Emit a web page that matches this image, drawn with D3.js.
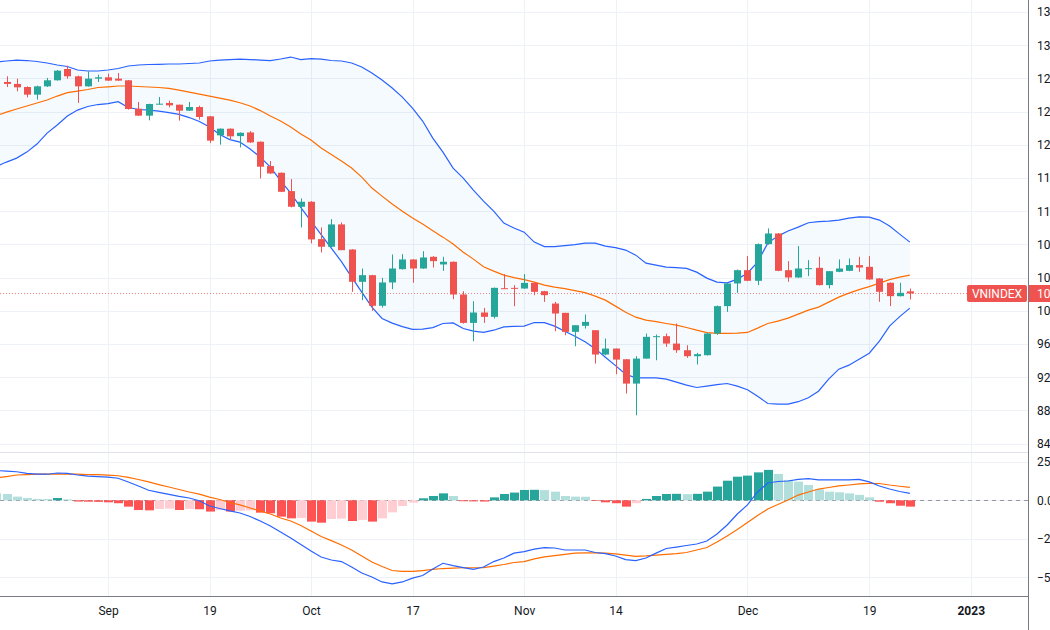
<!DOCTYPE html>
<html>
<head>
<meta charset="utf-8">
<script src="https://cdn.jsdelivr.net/npm/d3@7"></script>
<style>
  html, body { margin: 0; padding: 0; background: #fff; overflow: hidden; }
  svg { display: block; font-family: Roboto, "Noto Sans", sans-serif; }
</style>
</head>
<body>
<svg id="chart" width="1050" height="630"></svg>
<script>
// VNINDEX daily, mid Aug 2022 -> 23 Dec 2022 (one entry per trading day)
const opens = [1274.0,1275.7,1273.3,1269.6,1260.4,1270.4,1277.7,1291.3,1282.5,1270.4,1279.7,
  1281.3,1279.7,1277.7,1243.5,1235.1,1249.1,1250.4,1248.3,1241.1,1245.5,1234.3,1211.4,1219.4,1210.5,
  1214.9,1203.7,1174.4,1166.3,1144.2,1125.4,1131.4,1086.4,1077.2,1104.1,1073.9,1035.0,1043.0,1006.1,
  1034.2,1050.2,1061.9,1051.0,1065.1,1055.9,1059.1,1019.7,985.5,998.0,992.8,1027.3,1027.7,1026.9,
  1033.7,1023.7,1008.8,997.6,974.7,982.0,976.7,947.4,954.6,941.7,912.4,942.5,968.7,969.5,960.6,
  952.6,945.4,946.6,972.7,1005.7,1033.0,1049.0,1036.2,1080.4,1093.2,1049.0,1040.2,1050.2,1051.8,
  1031.0,1047.0,1048.2,1055.1,1053.0,1039.0,1033.8,1017.7,1023.5];
const highs = [1277.0,1282.5,1279.7,1270.4,1271.2,1280.5,1290.1,1295.3,1283.3,1288.5,1284.5,
  1285.7,1286.5,1278.0,1251.6,1249.5,1257.6,1253.2,1248.3,1251.6,1247.1,1234.7,1219.8,1219.8,1214.9,
  1216.5,1204.1,1180.4,1166.7,1158.7,1135.4,1132.2,1100.5,1110.5,1106.5,1074.3,1051.0,1043.4,1039.8,
  1067.9,1068.3,1062.3,1071.9,1065.9,1065.1,1059.5,1023.7,1011.6,1003.6,1028.1,1044.2,1030.9,1044.2,
  1034.1,1024.1,1010.8,997.6,982.7,995.6,976.7,966.7,954.6,941.7,945.4,972.7,971.5,972.7,984.7,
  958.6,949.4,973.5,1006.5,1033.8,1049.8,1065.9,1081.2,1099.3,1093.6,1059.9,1078.0,1061.1,1065.1,
  1047.8,1061.9,1063.1,1065.1,1065.9,1039.4,1034.2,1033.8,1026.9];
const lows = [1272.0,1269.6,1264.4,1257.2,1254.4,1269.6,1277.3,1279.7,1250.4,1270.0,1275.7,
  1276.9,1277.0,1242.3,1234.7,1229.5,1248.7,1245.1,1229.1,1240.7,1230.3,1202.1,1200.1,1206.2,1196.9,
  1202.1,1159.5,1165.1,1143.0,1124.6,1100.5,1081.2,1070.3,1076.4,1073.1,1022.9,1012.9,1000.0,1004.0,
  1026.1,1049.8,1033.8,1050.6,1052.2,1048.2,1014.1,984.7,963.4,985.5,990.8,1026.5,1005.6,1026.5,
  1018.9,1010.8,975.5,970.7,957.4,978.7,936.5,946.6,923.7,900.4,874.3,942.1,940.5,956.6,949.4,
  943.4,935.4,946.2,971.1,998.8,1021.7,1035.8,1031.0,1079.6,1047.8,1035.0,1039.8,1041.8,1030.6,
  1027.0,1046.6,1047.8,1047.0,1037.4,1010.9,1005.7,1017.3,1013.7];
const closes = [1275.5,1273.3,1269.2,1260.4,1270.4,1277.7,1289.3,1282.5,1270.4,1279.7,1281.3,
  1277.3,1277.3,1243.1,1235.1,1249.1,1249.5,1247.5,1241.1,1245.5,1233.5,1205.0,1219.4,1210.2,1214.5,
  1202.9,1173.6,1165.5,1143.4,1125.4,1131.4,1086.0,1077.2,1104.1,1073.1,1035.0,1043.0,1006.1,1034.2,
  1051.0,1061.9,1051.0,1064.3,1059.9,1059.1,1019.7,985.5,998.0,992.8,1027.7,1026.9,1026.9,1033.7,
  1022.9,1018.9,996.8,974.7,982.7,986.7,947.4,954.6,941.3,912.4,942.5,968.7,969.5,960.6,952.6,
  945.4,947.8,972.7,1005.7,1033.0,1049.0,1036.2,1080.4,1093.2,1048.2,1040.2,1051.0,1051.4,1031.0,
  1047.8,1051.0,1055.1,1052.2,1037.8,1022.9,1017.7,1021.7,1021.0];

// Bollinger Bands (20, 2)
const bbUpper = [1299.7,1300.9,1302.1,1301.5,1300.3,1298.5,1296.1,1294.3,1290.1,1288.9,1288.9,
  1290.1,1291.9,1294.9,1296.1,1296.7,1296.9,1297.3,1297.3,1297.9,1298.5,1300.9,1302.1,1302.7,1303.3,
  1302.7,1302.1,1301.5,1303.3,1305.7,1302.7,1303.9,1303.3,1301.5,1300.9,1298.5,1293.7,1286.4,1278.0,
  1268.4,1257.5,1244.3,1228.6,1208.1,1191.2,1171.9,1159.9,1145.4,1132.2,1120.2,1105.7,1099.7,1094.8,
  1082.8,1077.4,1077.4,1078.6,1079.8,1081.6,1081.6,1078.0,1076.2,1073.2,1067.1,1057.5,1055.1,1052.7,
  1052.1,1051.1,1046.6,1039.4,1034.6,1033.7,1038.2,1045.4,1058.7,1081.6,1090.0,1096.1,1100.9,1106.1,
  1107.5,1108.1,1109.3,1111.7,1113.3,1112.9,1109.3,1102.1,1092.4,1082.8];
const bbBasis = [1235.2,1239.4,1243.1,1246.7,1250.3,1253.9,1258.7,1262.9,1264.7,1266.6,1269.0,
  1269.8,1270.8,1270.8,1270.2,1269.6,1269.0,1268.0,1265.9,1263.5,1261.1,1258.7,1256.3,1253.9,1250.6,
  1246.7,1241.2,1234.6,1228.6,1221.4,1212.9,1205.7,1196.1,1188.2,1180.4,1172.0,1161.1,1147.9,1138.2,
  1128.6,1120.1,1111.7,1104.5,1096.6,1088.8,1080.4,1070.7,1062.3,1053.0,1047.8,1043.0,1040.0,1037.6,
  1034.6,1031.0,1028.6,1026.8,1024.3,1021.9,1017.7,1012.9,1005.7,998.4,992.4,988.8,987.0,984.8,
  982.8,980.0,976.7,973.7,972.8,972.8,973.1,974.0,979.2,984.8,987.6,991.2,996.0,1000.8,
  1004.5,1010.5,1016.5,1021.3,1025.6,1029.2,1033.4,1037.6,1040.6,1043.0];
const bbLower = [1173.8,1179.2,1184.0,1191.2,1200.9,1214.1,1223.8,1234.6,1241.8,1246.1,1248.5,
  1249.7,1251.9,1244.9,1242.5,1241.8,1240.6,1238.8,1236.7,1232.8,1228.0,1221.4,1212.3,1206.3,1203.3,
  1194.9,1185.2,1173.2,1156.9,1141.8,1124.4,1108.1,1091.8,1075.6,1059.3,1040.6,1022.5,1004.5,990.8,
  985.2,981.0,977.6,978.0,979.8,984.8,985.5,978.8,975.5,974.0,976.7,980.7,981.2,981.6,
  986.0,985.8,981.6,975.5,969.5,962.9,954.5,944.2,934.0,923.7,919.3,919.3,919.3,917.7,
  914.1,910.5,907.7,909.3,911.1,912.5,909.3,905.0,897.2,888.4,887.6,887.6,890.6,895.4,
  903.2,917.7,929.8,934.6,941.8,949.0,963.5,981.6,993.0,1003.3];

// MACD (12, 26, 9)
const macdLine = [19.3,18.9,18.5,17.4,17.0,16.9,17.7,17.4,16.4,15.7,15.4,
  15.0,14.3,11.9,9.3,6.5,5.1,3.8,2.5,1.5,-0.3,-3.7,-5.3,-6.9,-8.2,
  -10.5,-13.4,-16.7,-20.5,-24.4,-28.6,-32.9,-36.7,-38.7,-39.7,-43.2,-47.1,-49.7,-52.9,
  -54.2,-52.9,-50.4,-48.7,-44.5,-40.8,-42.3,-43.6,-44.8,-43.2,-39.7,-37.4,-34.2,-33.2,
  -31.6,-30.6,-30.9,-32.2,-32.2,-32.2,-33.8,-34.5,-36.1,-38.4,-39.1,-37.4,-34.2,-31.2,
  -30.3,-29.3,-28.3,-26.4,-21.8,-16.0,-8.9,-3.0,5.4,11.2,12.2,12.5,13.5,14.1,
  13.2,13.2,13.2,13.3,13.5,11.9,9.3,7.3,5.7,4.5];
const signalLine = [14.5,15.4,16.4,16.7,16.9,17.0,17.0,16.9,16.9,16.7,16.6,
  16.3,15.9,14.8,13.5,11.9,10.2,8.6,7.0,5.4,4.0,2.1,0.5,-1.4,-3.0,
  -5.0,-6.9,-8.9,-11.5,-13.4,-16.3,-19.9,-23.5,-26.1,-29.0,-32.2,-36.1,-40.0,-42.9,
  -45.5,-46.0,-46.1,-45.5,-44.8,-44.2,-43.9,-43.7,-43.7,-43.6,-42.6,-41.6,-40.3,-39.7,
  -38.0,-36.7,-35.8,-35.0,-34.2,-34.0,-34.0,-34.2,-34.7,-35.5,-36.3,-36.0,-35.5,-35.0,
  -34.6,-33.8,-32.2,-30.6,-27.0,-23.1,-18.9,-14.4,-9.9,-5.6,-2.7,0.2,3.4,5.4,
  7.3,8.3,9.3,9.9,10.6,11.0,10.9,9.9,9.1,8.4];
const histogram = [4.5,4.1,2.4,1.5,0.9,0.8,1.5,0.6,-0.8,-0.9,-1.0,
  -1.3,-1.9,-4.1,-6.3,-6.5,-5.6,-5.4,-6.3,-5.6,-5.8,-7.3,-6.3,-7.3,-6.7,
  -6.5,-8.0,-8.4,-10.6,-11.7,-11.4,-13.8,-14.5,-12.1,-11.9,-13.4,-12.7,-13.8,-11.7,
  -7.8,-3.7,-1.5,1.3,2.8,4.5,2.8,-0.6,-0.7,-0.8,1.9,4.1,5.0,6.7,
  6.8,6.6,5.6,2.8,2.4,2.3,-0.4,-1.3,-1.9,-4.1,-1.9,0.9,2.8,4.1,
  4.2,4.0,4.2,5.6,8.9,12.7,15.3,16.0,18.1,19.7,17.1,13.2,12.1,9.9,
  7.1,5.6,5.2,4.5,3.5,1.9,-0.9,-1.9,-3.5,-4.1];

// time axis labels (bar index -> text); 2023 label sits in empty future space
const timeTickIndex = [11, 21, 31, 41, 52, 61, 74, 86, 96];
const timeTickLabel = ['Sep', '19', 'Oct', '17', 'Nov', '14', 'Dec', '19', '2023'];
const priceTicks = [840, 880, 920, 960, 1000, 1040, 1080, 1120, 1160, 1200, 1240, 1280, 1320, 1360];
const macdTicks = [25, 0, -25, -50];

const svg = d3.select('#chart');
const W = 1050, plotRight = 1028;
const priceTop = 0, priceBottom = 452, macdTop = 453, macdBottom = 596;

const UP = '#26a69a', DOWN = '#ef5350';
const GRID = '#eef1f6';

const idx = d3.range(opens.length);
const x = d3.scaleLinear().domain([0, opens.length - 1]).range([-3.65, 909.85]);
const y = d3.scaleLinear().domain([830, 1374.4]).range([priceBottom, priceTop]);
const ym = d3.scaleLinear().domain([-62, 30.65]).range([macdBottom, macdTop]);

const defs = svg.append('defs');
defs.append('clipPath').attr('id', 'clipPrice')
  .append('rect').attr('x', 0).attr('y', priceTop).attr('width', plotRight).attr('height', priceBottom - priceTop);
defs.append('clipPath').attr('id', 'clipMacd')
  .append('rect').attr('x', 0).attr('y', macdTop).attr('width', plotRight).attr('height', macdBottom - macdTop);

// grid
const grid = svg.append('g');
grid.selectAll('.vg').data(timeTickIndex).join('line')
  .attr('x1', d => Math.round(x(d)) + 0.5).attr('x2', d => Math.round(x(d)) + 0.5)
  .attr('y1', 0).attr('y2', macdBottom)
  .attr('stroke', GRID);
grid.selectAll('.hg').data(priceTicks).join('line')
  .attr('x1', 0).attr('x2', plotRight)
  .attr('y1', d => Math.round(y(d)) + 0.5).attr('y2', d => Math.round(y(d)) + 0.5)
  .attr('stroke', GRID);
grid.selectAll('.mg').data(macdTicks).join('line')
  .attr('x1', 0).attr('x2', plotRight)
  .attr('y1', d => Math.round(ym(d)) + 0.5).attr('y2', d => Math.round(ym(d)) + 0.5)
  .attr('stroke', GRID);

// pane separator
svg.append('line').attr('x1', 0).attr('x2', plotRight)
  .attr('y1', priceBottom + 0.5).attr('y2', priceBottom + 0.5)
  .attr('stroke', '#e0e3eb');

// ---- price pane ----
const pp = svg.append('g').attr('clip-path', 'url(#clipPrice)');

pp.append('path').datum(idx)
  .attr('d', d3.area().x(i => x(i)).y0(i => y(bbLower[i])).y1(i => y(bbUpper[i])))
  .attr('fill', 'rgba(33,150,243,0.05)');

const bbLine = arr => d3.line().x(i => x(i)).y(i => y(arr[i]));
pp.append('path').datum(idx).attr('d', bbLine(bbUpper))
  .attr('fill', 'none').attr('stroke', '#2962ff').attr('stroke-width', 1.2);
pp.append('path').datum(idx).attr('d', bbLine(bbLower))
  .attr('fill', 'none').attr('stroke', '#2962ff').attr('stroke-width', 1.2);
pp.append('path').datum(idx).attr('d', bbLine(bbBasis))
  .attr('fill', 'none').attr('stroke', '#ff6d00').attr('stroke-width', 1.2);

// last price dotted line
const last = closes[closes.length - 1];
const lastY = Math.round(y(last)) + 0.5;
pp.append('line').attr('x1', 0).attr('x2', plotRight)
  .attr('y1', lastY).attr('y2', lastY)
  .attr('stroke', DOWN).attr('stroke-width', 1).attr('stroke-dasharray', '1,2').attr('opacity', 0.7);

// candles
const candles = pp.selectAll('.candle').data(idx).join('g');
candles.append('line')
  .attr('x1', i => Math.round(x(i)) + 0.5).attr('x2', i => Math.round(x(i)) + 0.5)
  .attr('y1', i => y(highs[i])).attr('y2', i => y(lows[i]))
  .attr('stroke', i => closes[i] >= opens[i] ? UP : DOWN);
candles.append('rect')
  .attr('x', i => Math.round(x(i)) - 3)
  .attr('width', 7)
  .attr('y', i => y(Math.max(opens[i], closes[i])))
  .attr('height', i => Math.max(1, Math.abs(y(opens[i]) - y(closes[i]))))
  .attr('fill', i => closes[i] >= opens[i] ? UP : DOWN);

// ---- MACD pane ----
const mp = svg.append('g').attr('clip-path', 'url(#clipMacd)');
mp.append('line').attr('x1', 0).attr('x2', plotRight)
  .attr('y1', Math.round(ym(0)) + 0.5).attr('y2', Math.round(ym(0)) + 0.5)
  .attr('stroke', '#9598a1').attr('stroke-dasharray', '4,4');

const histColor = i => {
  const v = histogram[i], p = i > 0 ? histogram[i - 1] : Infinity;
  if (v >= 0) return v > p ? UP : '#b2dfdb';
  return v < p ? '#ff5252' : '#ffcdd2';
};
mp.selectAll('.hist').data(idx).join('rect')
  .attr('x', i => Math.round(x(i)) - 4)
  .attr('width', 9)
  .attr('y', i => ym(Math.max(0, histogram[i])))
  .attr('height', i => Math.abs(ym(histogram[i]) - ym(0)))
  .attr('fill', histColor);

const mLine = arr => d3.line().x(i => x(i)).y(i => ym(arr[i]));
mp.append('path').datum(idx).attr('d', mLine(signalLine))
  .attr('fill', 'none').attr('stroke', '#ff6d00').attr('stroke-width', 1.2);
mp.append('path').datum(idx).attr('d', mLine(macdLine))
  .attr('fill', 'none').attr('stroke', '#2962ff').attr('stroke-width', 1.2);

// ---- axes ----
svg.append('line').attr('x1', 0).attr('x2', plotRight)
  .attr('y1', macdBottom + 0.5).attr('y2', macdBottom + 0.5)
  .attr('stroke', '#787b86');
svg.append('line').attr('x1', plotRight + 0.5).attr('x2', plotRight + 0.5)
  .attr('y1', 0).attr('y2', 630)
  .attr('stroke', '#787b86');

const fmt = d3.format('.2f');
const styleAxis = g => {
  g.select('.domain').remove();
  g.selectAll('.tick line').remove();
  g.selectAll('text').attr('fill', '#131722').style('font-size', '12px')
    .style('font-family', 'Roboto, "Noto Sans", sans-serif');
};
svg.append('g').attr('transform', `translate(${plotRight},0)`)
  .call(d3.axisRight(y).tickValues(priceTicks).tickFormat(fmt).tickSize(0).tickPadding(9))
  .call(styleAxis);
svg.append('g').attr('transform', `translate(${plotRight},0)`)
  .call(d3.axisRight(ym).tickValues(macdTicks).tickFormat(d => fmt(d).replace('-', '\u2212')).tickSize(0).tickPadding(9))
  .call(styleAxis);

const xAxis = svg.append('g').attr('transform', `translate(0,${macdBottom})`)
  .call(d3.axisBottom(x).tickValues(timeTickIndex)
    .tickFormat((d, k) => timeTickLabel[k]).tickSize(0).tickPadding(10))
  .call(styleAxis);
xAxis.selectAll('.tick text').filter((d, k) => timeTickLabel[k] === '2023')
  .style('font-weight', 'bold');

// last price labels
const tag = svg.append('g');
tag.append('rect').attr('x', 967).attr('y', lastY - 8.5).attr('width', 60).attr('height', 17)
  .attr('rx', 2).attr('fill', DOWN);
tag.append('text').attr('x', 997).attr('y', lastY).attr('dy', '0.35em')
  .attr('text-anchor', 'middle').attr('fill', '#fff').style('font-size', '12px')
  .text('VNINDEX');
tag.append('rect').attr('x', plotRight + 1).attr('y', lastY - 8.5).attr('width', 60).attr('height', 17)
  .attr('fill', DOWN);
tag.append('text').attr('x', plotRight + 9).attr('y', lastY).attr('dy', '0.35em')
  .attr('fill', '#fff').style('font-size', '12px')
  .text(fmt(last));
</script>
</body>
</html>
